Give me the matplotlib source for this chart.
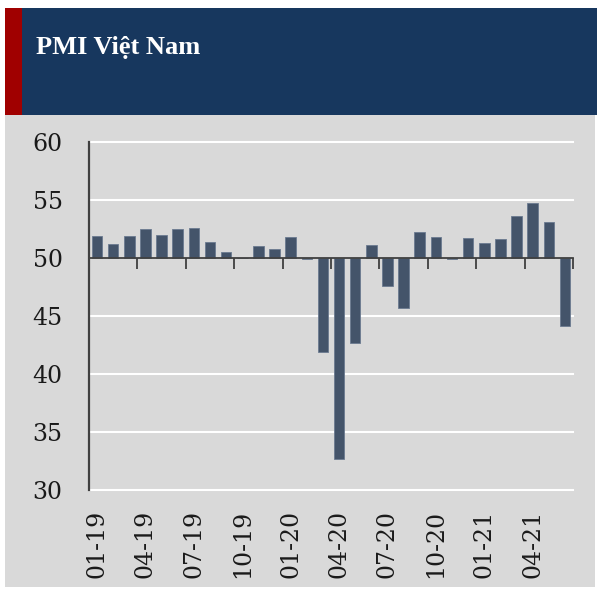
import matplotlib
matplotlib.use("Agg")
import matplotlib.pyplot as plt
import matplotlib.transforms as mtransforms
from matplotlib.patches import Rectangle
import numpy as np

title = "PMI Việt Nam"
months = ["01-19", "02-19", "03-19", "04-19", "05-19", "06-19", "07-19", "08-19", "09-19",
          "10-19", "11-19", "12-19", "01-20", "02-20", "03-20", "04-20", "05-20", "06-20",
          "07-20", "08-20", "09-20", "10-20", "11-20", "12-20", "01-21", "02-21", "03-21",
          "04-21", "05-21", "06-21"]
pmi = [51.9, 51.2, 51.9, 52.5, 52.0, 52.5, 52.6, 51.4, 50.5,
       50.0, 51.0, 50.8, 51.8, 49.9, 41.9, 32.7, 42.7, 51.1,
       47.6, 45.7, 52.2, 51.8, 49.9, 51.7, 51.3, 51.6, 53.6,
       54.7, 53.1, 44.1]
baseline = 50
yticks = [30, 35, 40, 45, 50, 55, 60]
label_step = 3

W, H = 597, 590
fig = plt.figure(figsize=(W / 100, H / 100), dpi=100)
fig.patch.set_facecolor("white")

# background panels
fig.patches.append(Rectangle((5 / W, (H - 587) / H), 590 / W, (587 - 115) / H, transform=fig.transFigure,
                             facecolor="#d9d9d9", edgecolor="none", zorder=0))
fig.patches.append(Rectangle((5 / W, (H - 115) / H), (W - 5) / W, 107 / H, transform=fig.transFigure,
                             facecolor="#17375e", edgecolor="none", zorder=0))
fig.patches.append(Rectangle((5 / W, (H - 115) / H), 17 / W, 107 / H, transform=fig.transFigure,
                             facecolor="#a00000", edgecolor="none", zorder=0))
fig.text(36 / W, (H - 54) / H, title, color="white", fontsize=19, fontweight="bold",
         family="Liberation Serif", va="baseline", ha="left")

ax = fig.add_axes([89 / W, (H - 490) / H, (573 - 89) / W, (490 - 142) / H])
ax.set_facecolor("none")
ax.set_zorder(2)

x = np.arange(len(pmi))
vals = np.array(pmi)
ax.bar(x, vals - baseline, bottom=baseline, width=0.65, color="#44546a",
       edgecolor="#6b7a90", linewidth=0.6, zorder=3)

ax.set_xlim(-0.5, len(pmi) - 0.5)
ax.set_ylim(min(yticks), max(yticks))
ax.set_yticks(yticks)
ax.set_yticklabels([str(t) for t in yticks])
for t in yticks:
    if t != baseline:
        ax.axhline(t, color="white", linewidth=1.5, zorder=1, clip_on=False)

for s in ["top", "right"]:
    ax.spines[s].set_visible(False)
ax.spines["left"].set_color("#404040")
ax.spines["left"].set_linewidth(1.6)
ax.spines["left"].set_zorder(4)
ax.spines["bottom"].set_position(("data", baseline))
ax.spines["bottom"].set_color("#404040")
ax.spines["bottom"].set_linewidth(1.3)
ax.spines["bottom"].set_zorder(4)

ax.tick_params(axis="y", length=0, pad=19, labelsize=17, labelcolor="#1a1a1a")
for lab in ax.get_yticklabels():
    lab.set_family("DejaVu Serif")

bounds = np.arange(-0.5, len(pmi), label_step)
ax.set_xticks(bounds)
ax.set_xticklabels([])
ax.tick_params(axis="x", direction="out", length=8, width=1.3, color="#404040")

trans = mtransforms.blended_transform_factory(ax.transData, ax.transAxes)
for i in range(0, len(months), label_step):
    ax.text(x[i], -0.058, months[i], transform=trans, rotation=90, ha="center", va="top",
            fontsize=17, family="DejaVu Serif", color="#1a1a1a")

fig.savefig("out.png", dpi=100, facecolor=fig.get_facecolor())
